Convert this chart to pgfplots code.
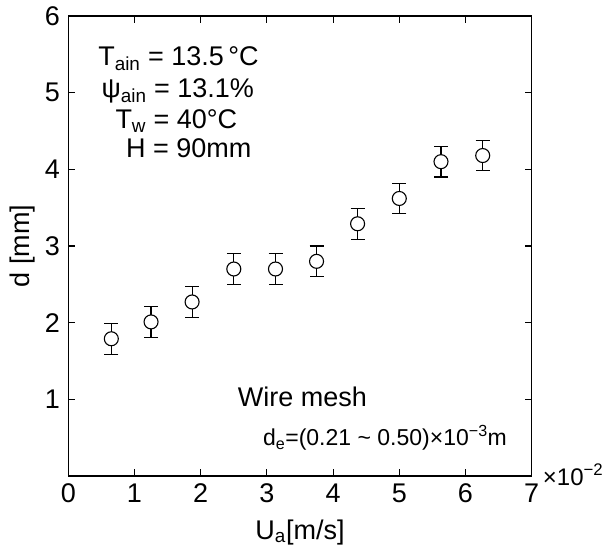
\documentclass[border=0pt]{standalone}
\usepackage{fontspec}
\setmainfont{Liberation Sans}
\usepackage{pgfplots}
\pgfplotsset{compat=1.18}
\newcommand\fA{\fontsize{27}{32}\selectfont}
\newcommand\fB{\fontsize{23}{27}\selectfont}
\newcommand\fC{\fontsize{24}{28}\selectfont}
\begin{document}
\begin{tikzpicture}
\begin{axis}[
  at={(0,0)}, anchor=south west,
  scale only axis, width=463.4pt, height=460pt,
  xmin=0, xmax=7, ymin=0, ymax=6,
  xtick={0,1,...,7}, ytick={0,1,...,6},
  yticklabels={,1,2,3,4,5,6},
  tick align=inside, major tick length=7pt,
  axis line style={line width=1.1pt, black},
  tick style={line width=1.1pt, black},
  ticklabel style={font=\fA},
  /pgf/number format/assume math mode=true,
  xticklabel style={yshift=-4pt},
  yticklabel style={xshift=-5pt},
  xlabel={U\textsubscript{a}[m/s]},
  ylabel={d [mm]},
  label style={font=\fA},
  xlabel style={yshift=-10pt},
  ylabel style={yshift=3pt},
  clip=false,
]
\addplot+[black, only marks, mark=*, mark size=7pt,
  mark options={fill=white, draw=black, line width=1.1pt},
  error bars/.cd, y dir=both, y explicit,
  error bar style={line width=1.1pt, black},
  error mark options={black, mark size=7pt, line width=1.1pt, rotate=90}]
  table[x=x, y=y, y error=e] {
x y e
0.65 1.79 0.2
1.25 2.01 0.2
1.87 2.27 0.2
2.50 2.70 0.2
3.13 2.70 0.2
3.75 2.80 0.2
4.37 3.29 0.2
5.00 3.62 0.2
5.63 4.10 0.2
6.26 4.18 0.2
};
\node[anchor=base west, font=\fA, inner sep=0pt] at (axis cs:0.45,5.36) {T\textsubscript{ain} = 13.5\,°C};
\node[anchor=base west, font=\fA, inner sep=0pt] at (axis cs:0.50,4.934) {ψ\textsubscript{ain} = 13.1\%};
\node[anchor=base west, font=\fA, inner sep=0pt] at (axis cs:0.71,4.535) {T\textsubscript{w} = 40°C};
\node[anchor=base west, font=\fA, inner sep=0pt] at (axis cs:0.87,4.15) {H = 90mm};
\node[anchor=base west, font=\fA, inner sep=0pt] at (axis cs:2.56,0.913) {Wire mesh};
\node[anchor=base west, font=\fB, inner sep=0pt] at (axis cs:2.94,0.40) {d\textsubscript{e}=(0.21 \textasciitilde{} 0.50)×10\textsuperscript{−3}m};
\node[anchor=base west, font=\fC, inner sep=0pt] at ([xshift=11pt,yshift=-9pt]axis cs:7,0) {×10\textsuperscript{−2}};
\end{axis}
\pgfresetboundingbox
\path[use as bounding box] (-68.3pt,-74pt) rectangle (547.7pt,476pt);
\end{tikzpicture}
\end{document}
